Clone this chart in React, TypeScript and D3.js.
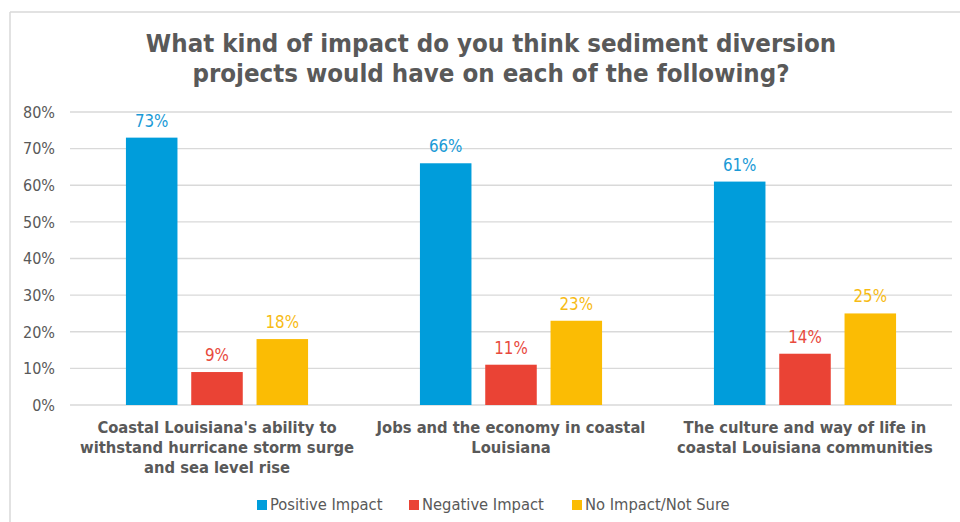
import React from "react";
import * as d3 from "d3";

const categories = [
  "Coastal Louisiana's ability to withstand hurricane storm surge and sea level rise",
  "Jobs and the economy in coastal Louisiana",
  "The culture and way of life in coastal Louisiana communities",
];
const categoryLines = [
  ["Coastal Louisiana's ability to", "withstand hurricane storm surge", "and sea level rise"],
  ["Jobs and the economy in coastal", "Louisiana"],
  ["The culture and way of life in", "coastal Louisiana communities"],
];
const seriesNames = ["Positive Impact", "Negative Impact", "No Impact/Not Sure"];
const positive = [0.73, 0.66, 0.61];
const negative = [0.09, 0.11, 0.14];
const noImpact = [0.18, 0.23, 0.25];
const yTicks = [0, 0.1, 0.2, 0.3, 0.4, 0.5, 0.6, 0.7, 0.8];
const titleLines = [
  "What kind of impact do you think sediment diversion",
  "projects would have on each of the following?",
];

const barColors = ["#009ddb", "#ea4335", "#fbbc04"];
const labelColors = ["#1a9ad6", "#e84a3d", "#f7bb14"];
const FONT = "'DejaVu Sans Condensed', 'DejaVu Sans', sans-serif";
const GREY = "#595959";

export default function App() {
  const W = 960, H = 522;
  const left = 70, right = 952, top = 112, bottom = 405;
  const series = [positive, negative, noImpact];

  const x0 = d3.scaleBand<string>().domain(categories).range([left, right]).padding(0);
  const gw = x0.bandwidth();
  const step = 65.3;
  const x1 = d3
    .scaleBand<string>()
    .domain(seriesNames)
    .range([gw / 2 - 1.5 * step, gw / 2 + 1.5 * step])
    .paddingInner(0.211)
    .paddingOuter(0.1055);
  const y = d3.scaleLinear().domain([0, 0.8]).range([bottom, top]);
  const fmt = d3.format(".0%");

  const legendX = [257, 409, 572];

  return (
    <div style={{ position: "absolute", left: 0, top: 0 }}>
      <svg width={W} height={H} style={{ display: "block", background: "#fff" }}>
        <rect x={0} y={0} width={W} height={H} fill="#fff" />
        <line x1={10} x2={W} y1={12} y2={12} stroke="#d9d9d9" strokeWidth={1.5} />
        <line x1={10} x2={10} y1={12} y2={H} stroke="#d9d9d9" strokeWidth={1.5} />
        {titleLines.map((t, i) => (
          <text
            key={i}
            x={491}
            y={52 + i * 30}
            textAnchor="middle"
            fontFamily={FONT}
            fontWeight="bold"
            fontSize={25.6}
            fill={GREY}
          >
            {t}
          </text>
        ))}
        {yTicks.map((t) => (
          <g key={t}>
            <line x1={left} x2={right} y1={y(t)} y2={y(t)} stroke="#d9d9d9" strokeWidth={1.3} />
            <text
              x={55}
              y={y(t)}
              dy="0.36em"
              textAnchor="end"
              fontFamily={FONT}
              fontSize={16}
              fill={GREY}
            >
              {fmt(t)}
            </text>
          </g>
        ))}
        {categories.map((c, ci) => (
          <g key={c} transform={`translate(${x0(c)},0)`}>
            {seriesNames.map((s, si) => {
              const v = series[si][ci];
              const bx = x1(s)!;
              return (
                <g key={s}>
                  <rect x={bx} y={y(v)} width={x1.bandwidth()} height={y(0) - y(v)} fill={barColors[si]} />
                  <text
                    x={bx + x1.bandwidth() / 2}
                    y={y(v) - 11}
                    textAnchor="middle"
                    fontFamily={FONT}
                    fontSize={16.8}
                    fill={labelColors[si]}
                  >
                    {fmt(v)}
                  </text>
                </g>
              );
            })}
            {categoryLines[ci].map((l, li) => (
              <text
                key={li}
                x={gw / 2}
                y={433 + li * 20}
                textAnchor="middle"
                fontFamily={FONT}
                fontWeight="bold"
                fontSize={16.4}
                fill={GREY}
              >
                {l}
              </text>
            ))}
          </g>
        ))}
        {seriesNames.map((s, si) => (
          <g key={s}>
            <rect x={legendX[si]} y={500} width={10} height={10} fill={barColors[si]} />
            <text x={legendX[si] + 13} y={510} fontFamily={FONT} fontSize={16.4} fill={GREY}>
              {s}
            </text>
          </g>
        ))}
      </svg>
    </div>
  );
}
